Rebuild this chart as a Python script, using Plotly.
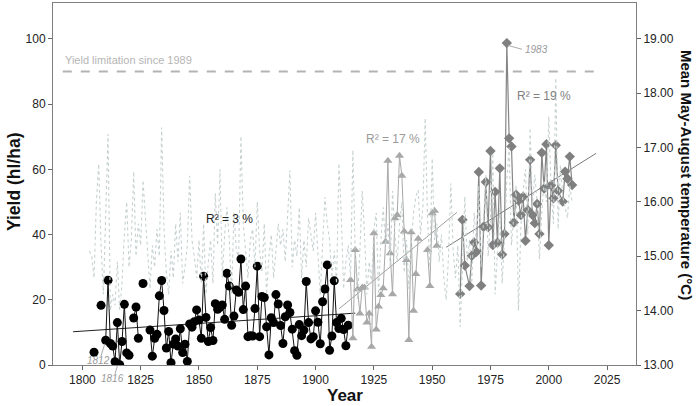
import plotly.graph_objects as go

# ---------------- data ----------------
black_years = list(range(1805, 1915))
black_yield = [3.9, None, None, 18.3, None, 7.6, 26.0, 6.6, 5.8, 1.0,
               13.0, 0.1, 7.2, 18.6, 3.7, 3.0, None, 14.4, 17.8, 8.2,
               None, 25.0, None, None, 10.7, 2.7, 8.2, 9.4, 21.2, 25.9,
               16.7, 5.2, 10.3, 0.7, 6.4, 8.0, 5.8, 11.1, 3.8, 6.4,
               1.1, 12.6, 11.6, 13.3, 16.9, 13.8, 8.2, 27.2, 14.6, 7.2,
               11.5, 7.5, 18.8, 17.1, 17.7, 18.4, 14.0, 28.1, 24.2, 12.2,
               15.0, 23.0, 22.3, 32.5, 17.0, 24.2, 8.7, 9.0, 8.9, 17.3,
               30.3, 8.7, 21.0, 20.7, 11.7, 3.1, 14.5, 13.0, 21.6, 18.7,
               12.1, 6.6, 14.8, 18.4, 16.1, 11.0, 4.4, 3.0, 12.4, 9.0,
               10.7, 25.6, 13.0, 8.0, 8.7, 16.6, 13.1, 6.5, 19.4, 23.3,
               30.7, 4.5, 8.9, 25.8, 13.0, 11.2, 14.3, 10.9, 5.9, 12.2]

tri_years = list(range(1915, 1953))
tri_yield = [26.1, 8.2, 35.3, 23.2, 15.8, 23.8, 23.8, 13.0, 15.8, 5.6,
             40.4, 10.9, 17.9, 21.5, 23.5, 37.8, 62.6, 34.3, 21.7, 45.0,
             46.0, 64.2, 58.0, 40.9, 32.2, 7.7, 40.7, 16.6, 27.9, 38.7,
             None, None, None, 35.3, 24.2, 46.5, 47.3, 36.6]

dia_years = [1962, 1963, 1964, 1966, 1967, 1968, 1969, 1970, 1971, 1972,
             1973, 1974, 1975, 1976, 1977, 1978, 1979, 1980, 1981, 1982,
             1983, 1984, 1985, 1986, 1987, 1988, 1989, 1990, 1991, 1992,
             1993, 1994, 1995, 1996, 1997, 1998, 1999, 2000, 2001, 2002,
             2003, 2004, 2006, 2007, 2008, 2009, 2010]
dia_yield = [21.8, 44.5, 30.5, 24.2, 33.5, 37.6, 34.7, 59.2, 24.4, 42.4,
             56.1, 42.2, 65.6, 36.8, 53.1, 37.5, 60.3, 33.9, 40.2, 98.7,
             69.5, 67.0, 43.7, 52.2, 50.4, 46.0, 51.6, 38.1, 47.5, 62.9,
             46.0, 43.5, 49.4, 40.2, 65.1, 54.1, 67.7, 36.7, 55.1, 51.1,
             67.4, 53.4, 50.1, 59.3, 57.1, 63.9, 55.2]

temp_years = list(range(1803, 2011))
temp_c = [15.1, 15.0, 14.6, 16.0, 16.7, 15.2, 14.3, 15.8, 17.25, 14.0,
          14.3, 14.1, 14.9, 14.0, 14.5, 15.4, 16.0, 14.8, 15.3, 16.56,
          15.0, 15.6, 15.2, 16.4, 15.7, 15.0, 14.4, 15.2, 14.8, 15.5,
          15.0, 17.37, 15.5, 14.7, 14.3, 15.1, 14.6, 15.6, 14.9, 15.8,
          14.5, 14.8, 15.2, 16.48, 15.3, 15.0, 14.6, 15.3, 14.5, 15.6,
          14.3, 14.9, 15.3, 14.5, 16.16, 15.2, 16.6, 14.6, 15.4, 15.9,
          15.3, 14.3, 15.8, 15.1, 15.0, 17.21, 15.6, 15.1, 14.6, 15.3,
          15.5, 14.8, 16.0, 15.1, 14.7, 15.6, 14.3, 15.0, 15.4, 14.6,
          15.1, 15.6, 15.2, 15.5, 14.9, 15.8, 16.58, 14.8, 15.3, 15.0,
          15.9, 14.6, 15.3, 14.8, 15.7, 15.4, 15.1, 15.8, 15.0, 14.3,
          15.2, 16.09, 15.6, 15.3, 14.6, 15.1, 14.5, 16.71, 15.8, 14.4,
          14.9, 15.2, 14.6, 16.96, 15.0, 14.2, 15.1, 16.2, 15.4, 14.3,
          14.9, 14.5, 15.5, 15.8, 14.3, 15.3, 15.9, 15.2, 15.6, 14.8,
          16.2, 15.4, 14.9, 15.6, 16.0, 14.7, 15.3, 14.4, 15.2, 15.8,
          16.1, 16.22, 15.4, 15.9, 17.54, 15.7, 14.8, 16.8, 15.3, 15.6,
          14.9, 15.4, 14.6, 14.2, 15.0, 16.34, 15.1, 14.6, 15.2, 13.7,
          14.8, 16.1, 14.9, 15.3, 14.5, 15.8, 15.2, 16.3, 14.8, 15.6,
          16.5, 15.0, 15.7, 16.9, 14.3, 15.1, 15.9, 14.5, 15.3, 16.4,
          17.0, 15.2, 15.8, 16.31, 14.0, 15.5, 16.2, 16.6, 15.4, 17.36,
          15.9, 16.5, 16.0, 14.95, 15.8, 16.4, 16.0, 17.57, 16.2, 15.6,
          18.28, 15.5, 16.68, 16.1, 15.9, 15.7, 16.3, 16.0]

# fitted trend lines (end points)
trend1_x = [1796, 1917]
trend1_y = [10.2, 15.9]
trend2_x = [1910, 1960.6]
trend2_y = [17.2, 46.8]
trend3_x = [1956, 2020.3]
trend3_y = [36.1, 64.9]

limit_x = [1791.6, 2021.7]
limit_y = [90, 90]

x_ticks = [1800, 1825, 1850, 1875, 1900, 1925, 1950, 1975, 2000, 2025]
y_ticks = [0, 20, 40, 60, 80, 100]
y2_ticks = [13, 14, 15, 16, 17, 18, 19]

Y_MAX = 111

# ---------------- figure ----------------
FONT = "Liberation Sans, Arial, sans-serif"
fig = go.Figure()

fig.add_trace(go.Scatter(x=temp_years, y=temp_c, yaxis="y2", mode="lines",
                         line=dict(color="#c6d1d1", width=1.1, dash="dot")))
fig.add_trace(go.Scatter(x=limit_x, y=limit_y, mode="lines",
                         line=dict(color="#b3b3b3", width=2, dash="dash")))
fig.add_trace(go.Scatter(x=trend1_x, y=trend1_y, mode="lines",
                         line=dict(color="#222222", width=1)))
fig.add_trace(go.Scatter(x=trend2_x, y=trend2_y, mode="lines",
                         line=dict(color="#9e9e9e", width=1)))
fig.add_trace(go.Scatter(x=trend3_x, y=trend3_y, mode="lines",
                         line=dict(color="#7a7a7a", width=1)))
fig.add_trace(go.Scatter(x=black_years, y=black_yield, mode="lines+markers",
                         line=dict(color="#111111", width=1),
                         marker=dict(symbol="circle", size=9, color="#000000")))
fig.add_trace(go.Scatter(x=tri_years, y=tri_yield, mode="lines+markers",
                         line=dict(color="#a8a8a8", width=1),
                         marker=dict(symbol="triangle-up", size=8, color="#a8a8a8")))
fig.add_trace(go.Scatter(x=dia_years, y=dia_yield, mode="lines+markers",
                         line=dict(color="#858585", width=1.2),
                         marker=dict(symbol="diamond", size=8, color="#7f7f7f")))

ann = []
ann.append(dict(x=1791.6, y=93.5, text="Yield limitation since 1989", showarrow=False,
                xanchor="left", yanchor="middle",
                font=dict(size=11, color="#b5b5b5", family=FONT)))
ann.append(dict(x=1863, y=44.8, text="R² = 3 %", showarrow=False,
                xanchor="center", yanchor="middle",
                font=dict(size=12, color="#222222", family=FONT)))
ann.append(dict(x=1933, y=69.3, text="R² = 17 %", showarrow=False,
                xanchor="center", yanchor="middle",
                font=dict(size=12, color="#9a9a9a", family=FONT)))
ann.append(dict(x=1998, y=82.5, text="R² = 19 %", showarrow=False,
                xanchor="center", yanchor="middle",
                font=dict(size=12, color="#7f7f7f", family=FONT)))
ann.append(dict(x=1994.7, y=96.6, text="<i>1983</i>", showarrow=False,
                xanchor="center", yanchor="middle",
                font=dict(size=10, color="#9a9a9a", family=FONT)))
ann.append(dict(x=1806.7, y=1.5, text="<i>1812</i>", showarrow=False,
                xanchor="center", yanchor="middle",
                font=dict(size=10, color="#9a9a9a", family=FONT)))
ann.append(dict(x=1812.9, yref="paper", y=-4.1 / Y_MAX, text="<i>1816</i>", showarrow=False,
                xanchor="center", yanchor="middle",
                font=dict(size=10, color="#9a9a9a", family=FONT)))
# axis titles
ann.append(dict(xref="paper", yref="paper", x=-0.067, y=0.508, text="<b>Yield (hl/ha)</b>",
                textangle=-90, showarrow=False, xanchor="center", yanchor="middle",
                font=dict(size=17.5, color="#111111", family=FONT)))
ann.append(dict(xref="paper", yref="paper", x=1.0858, y=0.525,
                text="<b>Mean May-August temperature (°C)</b>",
                textangle=90, showarrow=False, xanchor="center", yanchor="middle",
                font=dict(size=15, color="#111111", family=FONT)))
ann.append(dict(xref="paper", yref="paper", x=0.5, y=-0.085, text="<b>Year</b>",
                showarrow=False, xanchor="center", yanchor="middle",
                font=dict(size=17, color="#111111", family=FONT)))
fig.update_layout(annotations=ann)

# leader lines
shapes = [
    dict(type="line", x0=1982.5, y0=98.0, x1=1988.5, y1=96.8, line=dict(color="#aaaaaa", width=1)),
    dict(type="line", x0=1808.0, y0=2.8, x1=1809.6, y1=6.5, line=dict(color="#aaaaaa", width=1)),
    dict(type="line", xref="x", yref="paper", x0=1814.0, y0=-2.7 / Y_MAX, x1=1815.0, y1=-0.3 / Y_MAX,
         line=dict(color="#aaaaaa", width=1)),
]

fig.update_layout(
    width=697, height=406,
    margin=dict(l=53, r=61, t=3, b=41, autoexpand=False),
    paper_bgcolor="white", plot_bgcolor="white",
    showlegend=False,
    shapes=shapes,
    font=dict(family=FONT, size=12, color="#222222"),
    xaxis=dict(range=[1787.4, 2037.4], tickvals=x_ticks, ticks="outside", ticklen=4,
               tickcolor="#666666", showline=True, linecolor="#7f7f7f", linewidth=1,
               mirror=True, showgrid=False, zeroline=False, automargin=False,
               tickfont=dict(size=12, color="#222222")),
    yaxis=dict(range=[0, Y_MAX], tickvals=y_ticks, ticks="outside", ticklen=4,
               tickcolor="#666666", showline=True, linecolor="#7f7f7f", linewidth=1,
               showgrid=False, zeroline=False, automargin=False,
               tickfont=dict(size=12, color="#222222")),
    yaxis2=dict(range=[13, 19.66], tickvals=y2_ticks, tickformat=".2f", overlaying="y",
                side="right", ticks="outside", ticklen=4, tickcolor="#666666",
                showline=True, linecolor="#7f7f7f", linewidth=1, showgrid=False,
                zeroline=False, automargin=False,
                tickfont=dict(size=12, color="#222222")),
)

fig.write_html("out.html", config={"displayModeBar": False},
               post_script="document.body.style.margin='0';document.body.style.overflow='hidden';")
